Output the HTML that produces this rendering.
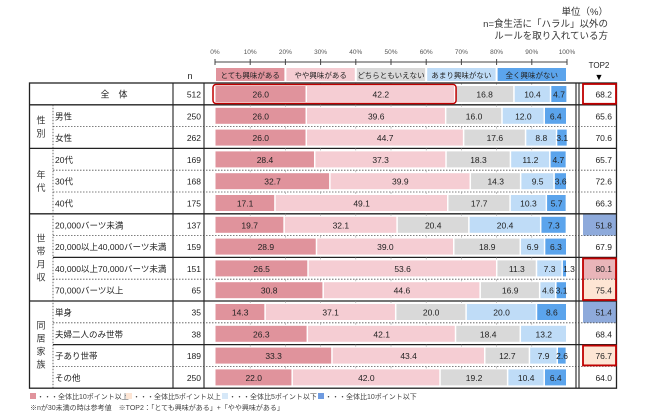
<!DOCTYPE html><html><head><meta charset="utf-8"><style>
body{margin:0;background:#fff;}
svg{display:block;font-family:"Liberation Sans","Noto Sans CJK JP",sans-serif;}
</style></head><body>
<svg id="s" width="650" height="416" viewBox="0 0 650 416">
<text x="608" y="15" font-size="9.5" text-anchor="end" fill="#333">単位（%）</text>
<text x="608" y="27" font-size="9.5" text-anchor="end" fill="#333">n=食生活に「ハラル」以外の</text>
<text x="608" y="39" font-size="9.5" text-anchor="end" fill="#333">ルールを取り入れている方</text>
<text x="599" y="68" font-size="8" text-anchor="middle" fill="#222">TOP2</text>
<text x="599" y="80" font-size="9" text-anchor="middle" fill="#000">▼</text>
<text x="190" y="79" font-size="9" text-anchor="middle" fill="#222">n</text>
</svg>
<script>
(function(){
var s=document.getElementById('s'),NS='http://www.w3.org/2000/svg';
function el(t,a,txt){var e=document.createElementNS(NS,t);for(var k in a)e.setAttribute(k,a[k]);if(txt!=null)e.textContent=txt;s.appendChild(e);return e;}
var X0=215,W=352;function fx(v){return X0+W*v/100;}
var C=['#e0939c','#f5cdd3','#d9d9d9','#bfdcf7','#5ba4ec'];
el('line',{x1:X0,y1:62,x2:X0+W,y2:62,stroke:'#444','stroke-width':1});
for(var i=0;i<=10;i++){var x=fx(i*10);el('line',{x1:x,y1:59,x2:x,y2:65,stroke:'#444'});el('text',{x:x,y:54,'font-size':6.5,'text-anchor':'middle',fill:'#555'},i*10+'%');}
var L=['とても興味がある','やや興味がある','どちらともいえない','あまり興味がない','全く興味がない'];
for(i=0;i<5;i++){var x=fx(i*20);el('rect',{x:x+1,y:68,width:W/5-2,height:13,fill:C[i]});el('text',{x:x+W/10,y:78,'font-size':7.5,'text-anchor':'middle',fill:'#222'},L[i]);}
var R=[
['全　体',512,[26.0,42.2,16.8,10.4,4.7],'68.2'],
['男性',250,[26.0,39.6,16.0,12.0,6.4],'65.6'],
['女性',262,[26.0,44.7,17.6,8.8,3.1],'70.6'],
['20代',169,[28.4,37.3,18.3,11.2,4.7],'65.7'],
['30代',168,[32.7,39.9,14.3,9.5,3.6],'72.6'],
['40代',175,[17.1,49.1,17.7,10.3,5.7],'66.3'],
['20,000バーツ未満',137,[19.7,32.1,20.4,20.4,7.3],'51.8','#8eaadb'],
['20,000以上40,000バーツ未満',159,[28.9,39.0,18.9,6.9,6.3],'67.9'],
['40,000以上70,000バーツ未満',151,[26.5,53.6,11.3,7.3,1.3],'80.1','#e9b5b9'],
['70,000バーツ以上',65,[30.8,44.6,16.9,4.6,3.1],'75.4','#fde5d4'],
['単身',35,[14.3,37.1,20.0,20.0,8.6],'51.4','#8eaadb'],
['夫婦二人のみ世帯',38,[26.3,42.1,18.4,13.2,0],'68.4'],
['子あり世帯',189,[33.3,43.4,12.7,7.9,2.6],'76.7','#fde5d4'],
['その他',250,[22.0,42.0,19.2,10.4,6.4],'64.0']];
var T=83,H=21.8,B=83+14*H;
for(var r=0;r<R.length;r++){var d=R[r],ty=T+r*H;
 if(d[4])el('rect',{x:583,y:ty,width:34,height:H,fill:d[4]});
 if(r==0)el('text',{x:114,y:ty+14.5,'font-size':9,'text-anchor':'middle',fill:'#222'},d[0]);
 else el('text',{x:55,y:ty+14.5,'font-size':8.5,fill:'#222'},d[0]);
 el('text',{x:201,y:ty+14.5,'font-size':8.5,'text-anchor':'end',fill:'#222'},d[1]);
 var c=0;for(var k=0;k<5;k++){var v=d[2][k];if(!v){continue;}var a=fx(c),b=fx(c+v);c+=v;
  el('rect',{x:a+0.5,y:ty+3,width:Math.max(b-a-1.5,1),height:16,fill:C[k]});
  var tx=(a+b)/2;if(v<2.5)tx=b+2;
  el('text',{x:tx,y:ty+14.5,'font-size':8.5,'text-anchor':'middle',fill:'#222'},v.toFixed(1));}
 el('text',{x:612,y:ty+14.5,'font-size':8.5,'text-anchor':'end',fill:'#222'},d[3]);
 if(r>0){var thick=[1,3,6,10,8,12].indexOf(r)>=0;
  if(thick){var x1=([1,3,6,10].indexOf(r)>=0)?29:53;el('line',{x1:x1,y1:ty,x2:617,y2:ty,stroke:'#222','stroke-width':1.3});}
  else el('line',{x1:53,y1:ty,x2:617,y2:ty,stroke:'#555','stroke-width':0.8,'stroke-dasharray':'1.5,1.5'});}
}
for(i=1;i<10;i++){var x=fx(i*10);el('line',{x1:x,y1:T,x2:x,y2:B,stroke:'#999','stroke-width':0.6,'stroke-dasharray':'2,19.8'});}
var G=[['性','別',1,2],['年','代',3,3],['世','帯','月','収',6,4],['同','居','家','族',10,4]];
G.forEach(function(g){var n=g.length-2,st=g[n],cnt=g[n+1],cy=T+(st+cnt/2)*H;for(var j=0;j<n;j++)el('text',{x:41,y:cy-(n/2-j)*13+10,'font-size':9,'text-anchor':'middle',fill:'#333'},g[j]);});
el('line',{x1:53,y1:T+H,x2:53,y2:B,stroke:'#444','stroke-width':0.8,'stroke-dasharray':'1.5,1.5'});
el('rect',{x:29.5,y:T,width:587,height:B-T,fill:'none',stroke:'#222','stroke-width':1.3});
[173,204,576,579].forEach(function(x){el('line',{x1:x,y1:T,x2:x,y2:B,stroke:'#222','stroke-width':1.1});});
el('rect',{x:213,y:T+1.5,width:fx(68.2)-213+1,height:19,rx:3,fill:'none',stroke:'#c00000','stroke-width':1.5});
el('rect',{x:583,y:T+1,width:33,height:H-2,fill:'none',stroke:'#c00000','stroke-width':1.8});
el('rect',{x:583,y:T+8*H+1,width:33,height:2*H-2,fill:'none',stroke:'#c00000','stroke-width':1.8});
el('rect',{x:583,y:T+12*H+1,width:33,height:H-2,fill:'none',stroke:'#c00000','stroke-width':1.8});
var F=[['#e0939c','・・・全体比10ポイント以上'],['#fde5d4','・・・全体比5ポイント以上'],['#d6e8f8','・・・全体比5ポイント以下'],['#6f9be0','・・・全体比10ポイント以下']],fxp=30;
F.forEach(function(f){el('rect',{x:fxp,y:393,width:6,height:6,fill:f[0]});el('text',{x:fxp+7,y:399,'font-size':7,fill:'#444'},f[1]);fxp+=96;});
el('text',{x:30,y:410,'font-size':7,fill:'#444'},'※nが30未満の時は参考値　※TOP2：「とても興味がある」+「やや興味がある」');
})();
</script>
</body></html>
